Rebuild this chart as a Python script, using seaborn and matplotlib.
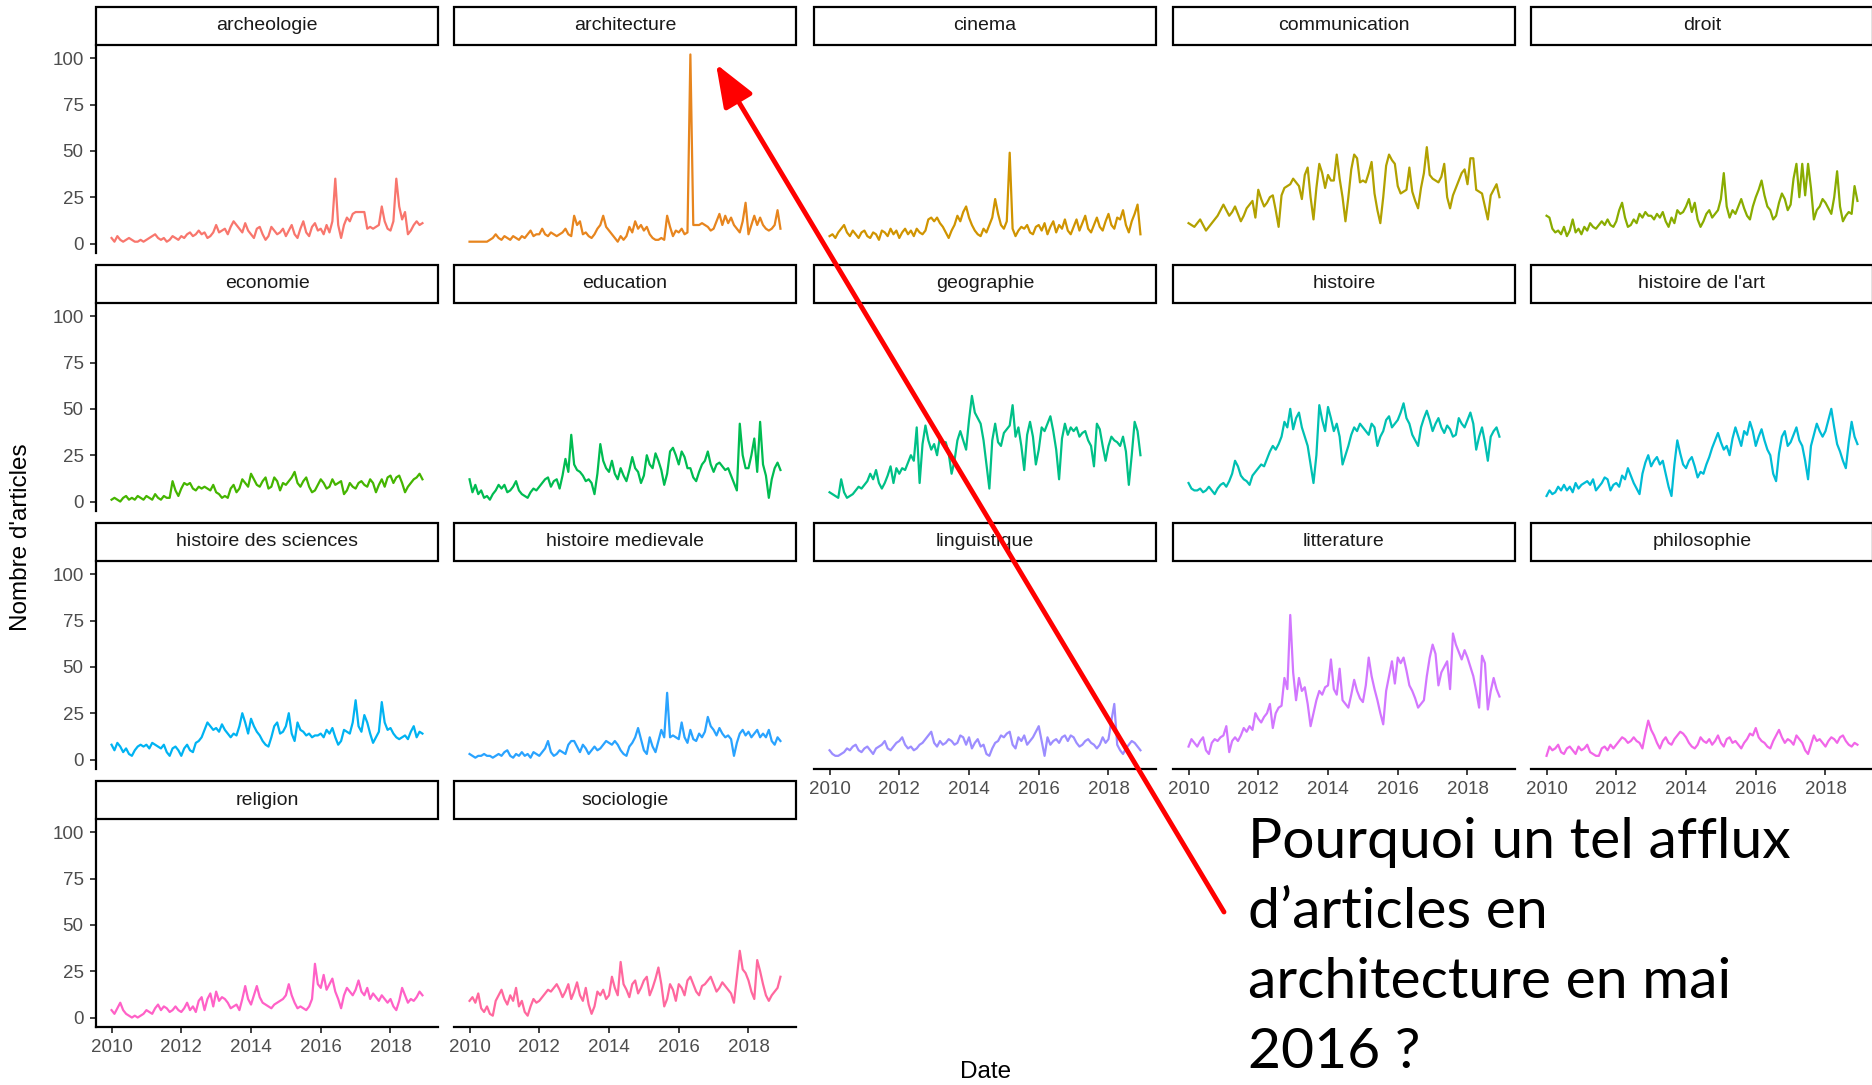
import numpy as np
import pandas as pd
import matplotlib
matplotlib.use('Agg')
import matplotlib.pyplot as plt
import seaborn as sns
from matplotlib.patches import Rectangle, FancyArrowPatch

# Nombre d'articles par mois (janvier 2010 -> decembre 2018)
archeologie = [3, 1, 4, 2, 1, 2, 3, 2, 1, 1, 2, 1,
               2, 3, 4, 5, 3, 2, 3, 1, 2, 4, 3, 2,
               4, 3, 5, 6, 4, 5, 7, 5, 6, 3, 4, 6,
               10, 6, 7, 8, 5, 9, 12, 10, 8, 6, 11, 7,
               5, 3, 8, 9, 5, 2, 4, 9, 7, 5, 6, 8,
               4, 7, 10, 5, 3, 8, 12, 6, 4, 9, 11, 7,
               8, 5, 10, 6, 12, 35, 10, 3, 10, 14, 12, 16,
               17, 17, 17, 17, 8, 9, 8, 9, 10, 20, 12, 8,
               7, 12, 35, 20, 13, 17, 5, 7, 10, 12, 10, 11]
architecture = [1, 1, 1, 1, 1, 1, 1, 2, 3, 5, 3, 2,
                4, 3, 2, 4, 3, 2, 4, 3, 5, 7, 4, 5,
                5, 8, 5, 4, 6, 5, 4, 5, 6, 8, 5, 4,
                15, 10, 12, 5, 6, 4, 3, 5, 8, 10, 15, 9,
                7, 5, 3, 1, 4, 2, 4, 9, 6, 12, 8, 10,
                7, 9, 5, 3, 2, 2, 3, 2, 15, 9, 4, 7,
                6, 8, 5, 6, 102, 10, 10, 10, 11, 10, 9, 7,
                8, 12, 16, 10, 15, 11, 14, 10, 8, 6, 12, 22,
                5, 10, 15, 10, 14, 10, 8, 7, 8, 10, 18, 8]
cinema = [4, 5, 3, 6, 8, 10, 6, 4, 7, 5, 3, 6,
          7, 4, 3, 6, 5, 2, 7, 6, 4, 8, 5, 7,
          3, 6, 8, 5, 7, 4, 8, 6, 5, 7, 13, 14,
          12, 14, 11, 9, 6, 3, 7, 10, 15, 12, 17, 20,
          14, 10, 7, 5, 4, 8, 6, 10, 14, 24, 16, 10,
          8, 12, 49, 8, 4, 7, 9, 8, 10, 6, 5, 9,
          10, 7, 11, 5, 9, 12, 6, 10, 8, 13, 7, 5,
          9, 13, 7, 11, 15, 8, 6, 10, 14, 9, 7, 12,
          16, 10, 8, 14, 13, 18, 10, 6, 12, 16, 21, 5]
communication = [11, 10, 9, 11, 13, 10, 7, 9, 11, 13, 15, 18,
                 21, 18, 15, 17, 20, 16, 12, 15, 19, 21, 23, 14,
                 29, 24, 20, 22, 25, 26, 18, 9, 26, 30, 31, 32,
                 35, 33, 31, 24, 37, 41, 25, 13, 30, 43, 38, 30,
                 37, 34, 34, 48, 35, 25, 12, 25, 40, 48, 46, 33,
                 34, 33, 38, 44, 27, 18, 11, 25, 42, 48, 45, 43,
                 31, 27, 28, 29, 41, 28, 23, 19, 30, 38, 52, 37,
                 35, 34, 33, 36, 43, 25, 19, 26, 30, 34, 38, 40,
                 32, 46, 46, 29, 28, 27, 20, 13, 26, 29, 32, 25]
droit = [15, 14, 8, 6, 7, 5, 9, 4, 7, 13, 6, 8,
         5, 9, 7, 11, 9, 8, 10, 12, 10, 13, 10, 9,
         12, 18, 22, 14, 9, 10, 13, 11, 16, 14, 17, 15,
         15, 13, 16, 14, 17, 12, 9, 14, 11, 18, 16, 17,
         20, 24, 17, 22, 13, 9, 12, 16, 18, 14, 16, 18,
         24, 38, 20, 14, 18, 16, 20, 24, 19, 15, 13, 20,
         25, 29, 34, 26, 20, 18, 13, 15, 22, 27, 24, 18,
         21, 35, 43, 25, 43, 26, 43, 30, 13, 18, 20, 24,
         22, 19, 16, 25, 39, 20, 12, 15, 17, 16, 31, 23]
economie = [1, 2, 1, 0, 2, 3, 1, 2, 1, 3, 2, 1,
            3, 2, 1, 4, 2, 1, 3, 2, 2, 11, 6, 3,
            7, 10, 9, 10, 7, 6, 8, 7, 8, 7, 6, 9,
            5, 4, 2, 3, 2, 7, 9, 5, 7, 12, 10, 8,
            15, 12, 9, 8, 11, 13, 7, 8, 13, 11, 6, 10,
            9, 11, 13, 16, 10, 8, 11, 13, 8, 5, 6, 9,
            12, 10, 7, 8, 12, 9, 10, 11, 4, 6, 10, 8,
            7, 10, 11, 9, 8, 12, 10, 5, 9, 12, 8, 13,
            14, 10, 13, 14, 10, 5, 8, 10, 12, 13, 15, 12]
education = [12, 5, 9, 4, 6, 2, 3, 1, 4, 6, 9, 7,
             9, 5, 6, 8, 11, 6, 4, 3, 2, 5, 7, 6,
             8, 10, 12, 13, 8, 11, 12, 7, 14, 23, 16, 36,
             20, 17, 16, 14, 11, 12, 10, 4, 15, 31, 22, 18,
             16, 22, 15, 12, 18, 14, 11, 17, 24, 18, 16, 10,
             14, 25, 20, 18, 26, 22, 17, 9, 15, 27, 29, 25,
             20, 27, 24, 18, 18, 13, 11, 16, 20, 22, 27, 20,
             16, 20, 21, 19, 17, 18, 14, 10, 6, 42, 25, 18,
             18, 25, 34, 16, 43, 20, 14, 2, 12, 18, 21, 17]
geographie = [5, 4, 3, 2, 12, 5, 2, 3, 4, 6, 8, 7,
              9, 11, 15, 12, 17, 10, 7, 10, 14, 19, 10, 18,
              15, 18, 17, 21, 25, 22, 40, 10, 31, 41, 33, 28,
              31, 25, 35, 32, 32, 26, 15, 22, 33, 38, 33, 28,
              44, 57, 48, 45, 42, 33, 20, 7, 33, 42, 32, 30,
              37, 39, 41, 52, 35, 40, 30, 17, 36, 43, 35, 20,
              28, 40, 38, 42, 46, 38, 28, 12, 34, 42, 36, 40,
              38, 40, 35, 37, 38, 33, 30, 19, 42, 39, 30, 22,
              30, 35, 33, 32, 30, 35, 27, 9, 25, 43, 38, 25]
histoire = [10, 7, 6, 6, 7, 5, 6, 8, 6, 4, 7, 9,
            10, 8, 11, 15, 22, 19, 14, 12, 11, 9, 14, 16,
            18, 20, 19, 23, 27, 30, 28, 31, 35, 43, 40, 50,
            39, 45, 48, 40, 35, 30, 20, 10, 25, 52, 44, 38,
            51, 45, 38, 42, 35, 20, 25, 30, 36, 40, 38, 42,
            40, 38, 36, 42, 40, 30, 35, 38, 44, 46, 40, 42,
            44, 48, 53, 45, 42, 36, 33, 30, 40, 45, 49, 44,
            38, 42, 45, 40, 37, 41, 39, 35, 36, 45, 42, 40,
            44, 48, 42, 28, 35, 40, 32, 22, 35, 38, 40, 35]
histoire_art = [3, 6, 4, 5, 8, 6, 9, 6, 8, 5, 10, 7,
                9, 10, 11, 9, 12, 6, 8, 10, 13, 12, 6, 9,
                10, 8, 14, 12, 18, 14, 10, 7, 4, 15, 21, 25,
                19, 22, 24, 20, 22, 15, 8, 3, 20, 33, 26, 20,
                18, 22, 24, 19, 13, 16, 15, 20, 24, 29, 33, 37,
                32, 28, 30, 25, 34, 40, 35, 30, 38, 36, 43, 38,
                30, 35, 39, 33, 28, 25, 15, 11, 26, 35, 38, 30,
                32, 36, 40, 33, 30, 22, 12, 30, 36, 42, 38, 35,
                38, 44, 50, 40, 31, 27, 22, 18, 32, 43, 35, 31]
histoire_sciences = [8, 5, 9, 7, 4, 6, 3, 2, 5, 7, 8, 7,
                     8, 6, 9, 8, 7, 6, 8, 4, 2, 6, 7, 5,
                     2, 6, 8, 5, 4, 9, 10, 12, 16, 20, 18, 16,
                     17, 15, 19, 16, 14, 12, 14, 13, 18, 25, 20, 14,
                     22, 18, 15, 13, 10, 8, 7, 12, 18, 20, 14, 15,
                     18, 25, 14, 10, 20, 16, 15, 13, 14, 12, 13, 13,
                     14, 12, 16, 14, 17, 12, 8, 10, 16, 15, 14, 20,
                     32, 18, 15, 24, 20, 14, 9, 12, 15, 31, 20, 16,
                     17, 14, 12, 11, 12, 13, 11, 15, 18, 12, 15, 14]
histoire_medievale = [3, 2, 1, 2, 2, 3, 2, 2, 1, 2, 3, 2,
                      4, 5, 2, 1, 3, 2, 4, 2, 3, 1, 4, 3,
                      2, 4, 6, 10, 4, 2, 3, 5, 4, 3, 8, 10,
                      10, 7, 4, 8, 6, 3, 5, 7, 5, 6, 8, 10,
                      9, 8, 10, 8, 5, 3, 2, 7, 9, 12, 17, 11,
                      5, 3, 12, 7, 4, 10, 16, 12, 36, 12, 13, 12,
                      11, 20, 12, 9, 16, 11, 10, 14, 12, 15, 23, 18,
                      16, 13, 17, 14, 12, 13, 11, 2, 9, 14, 16, 13,
                      15, 12, 14, 16, 12, 14, 12, 16, 10, 8, 12, 10]
linguistique = [5, 3, 2, 2, 3, 4, 6, 5, 7, 8, 5, 4,
                6, 7, 5, 3, 6, 7, 8, 10, 6, 5, 7, 9,
                10, 12, 8, 6, 7, 5, 6, 8, 9, 11, 13, 15,
                9, 7, 10, 8, 9, 11, 10, 8, 9, 13, 12, 8,
                12, 6, 9, 11, 7, 8, 3, 2, 6, 9, 10, 13,
                12, 14, 15, 8, 6, 12, 10, 13, 8, 10, 12, 15,
                18, 10, 2, 12, 8, 10, 11, 9, 12, 13, 10, 13,
                12, 9, 7, 8, 10, 11, 9, 8, 6, 8, 12, 9,
                11, 21, 30, 8, 5, 3, 6, 8, 10, 9, 7, 5]
litterature = [7, 11, 9, 7, 10, 12, 5, 3, 9, 11, 10, 12,
               13, 18, 4, 10, 12, 10, 13, 17, 15, 18, 16, 25,
               22, 20, 23, 25, 30, 17, 25, 28, 29, 44, 38, 78,
               47, 32, 44, 37, 39, 30, 18, 25, 32, 37, 35, 39,
               40, 54, 38, 35, 49, 32, 30, 28, 35, 43, 37, 33,
               31, 40, 55, 45, 38, 32, 25, 19, 37, 45, 53, 41,
               55, 52, 55, 48, 40, 37, 33, 28, 30, 32, 45, 55,
               62, 57, 40, 47, 50, 53, 38, 68, 62, 58, 54, 59,
               55, 50, 45, 37, 28, 56, 52, 27, 37, 44, 38, 34]
philosophie = [2, 7, 5, 6, 8, 4, 3, 6, 7, 5, 3, 7,
               5, 6, 8, 4, 3, 2, 2, 6, 7, 5, 8, 6,
               8, 10, 12, 11, 9, 10, 12, 10, 9, 6, 14, 21,
               16, 13, 9, 6, 10, 12, 9, 8, 11, 13, 15, 14,
               12, 9, 7, 6, 8, 12, 10, 9, 11, 8, 10, 13,
               9, 7, 11, 12, 9, 10, 8, 6, 9, 11, 14, 13,
               17, 12, 10, 9, 7, 6, 10, 13, 16, 12, 9, 11,
               10, 8, 13, 11, 9, 5, 3, 8, 13, 10, 11, 9,
               7, 10, 12, 11, 9, 12, 13, 10, 8, 7, 9, 8]
religion = [4, 2, 5, 8, 4, 2, 1, 0, 1, 0, 1, 2,
            4, 3, 2, 5, 7, 4, 6, 5, 3, 4, 6, 4,
            3, 5, 8, 4, 6, 3, 9, 11, 4, 10, 13, 6,
            14, 9, 11, 10, 8, 5, 6, 7, 4, 10, 17, 10,
            7, 12, 17, 11, 8, 7, 6, 5, 7, 8, 9, 10,
            12, 18, 12, 8, 5, 6, 5, 4, 6, 10, 29, 18,
            16, 23, 15, 18, 21, 14, 10, 5, 12, 16, 14, 12,
            15, 20, 14, 12, 16, 10, 13, 11, 9, 12, 10, 8,
            10, 6, 4, 9, 16, 12, 8, 10, 9, 11, 14, 12]
sociologie = [9, 11, 8, 13, 5, 3, 6, 2, 1, 9, 12, 15,
              10, 7, 12, 9, 16, 6, 9, 3, 1, 6, 10, 8,
              9, 11, 13, 15, 14, 16, 18, 15, 11, 14, 18, 10,
              14, 19, 12, 9, 16, 7, 2, 6, 14, 12, 15, 10,
              12, 22, 16, 12, 30, 18, 15, 11, 18, 20, 13, 16,
              20, 22, 12, 16, 21, 27, 18, 6, 10, 18, 15, 9,
              18, 16, 12, 20, 22, 18, 14, 12, 17, 18, 20, 22,
              18, 14, 16, 19, 17, 15, 13, 8, 22, 36, 26, 24,
              20, 14, 10, 31, 25, 18, 12, 9, 12, 14, 16, 22]

noms = ['archeologie', 'architecture', 'cinema', 'communication', 'droit',
        'economie', 'education', 'geographie', 'histoire', "histoire de l'art",
        'histoire des sciences', 'histoire medievale', 'linguistique', 'litterature',
        'philosophie', 'religion', 'sociologie']
series = [archeologie, architecture, cinema, communication, droit,
          economie, education, geographie, histoire, histoire_art,
          histoire_sciences, histoire_medievale, linguistique, litterature,
          philosophie, religion, sociologie]

annees_ticks = [2010, 2012, 2014, 2016, 2018]
y_ticks = [0, 25, 50, 75, 100]

# table longue
frames = []
for nom, vals in zip(noms, series):
    dates = pd.date_range('2010-01-01', periods=len(vals), freq='MS')
    frames.append(pd.DataFrame({'discipline': nom,
                                'annee': dates.year + (dates.month - 1) / 12,
                                'n': vals}))
df = pd.concat(frames, ignore_index=True)


# palette "hue" de ggplot (HCL, l=65, c=100)
def hcl_hex(h, c=100.0, l=65.0):
    Xn, Yn, Zn = 95.047, 100.0, 108.883
    hr = np.deg2rad(h)
    u, v = c * np.cos(hr), c * np.sin(hr)
    Y = Yn * ((l + 16) / 116) ** 3
    den = Xn + 15 * Yn + 3 * Zn
    un, vn = 4 * Xn / den, 9 * Yn / den
    up, vp = u / (13 * l) + un, v / (13 * l) + vn
    X = 9 * Y * up / (4 * vp)
    Z = -X / 3 - 5 * Y + 3 * Y / vp
    X, Y, Z = X / 100, Y / 100, Z / 100
    rgb = [3.240479 * X - 1.537150 * Y - 0.498535 * Z,
           -0.969256 * X + 1.875992 * Y + 0.041556 * Z,
           0.055648 * X - 0.204043 * Y + 1.057311 * Z]
    out = []
    for t in rgb:
        t = 1.055 * t ** (1 / 2.4) - 0.055 if t > 0.0031308 else 12.92 * t
        out.append(min(max(t, 0), 1))
    return tuple(out)


palette = [hcl_hex(15 + 360 * i / len(noms)) for i in range(len(noms))]

W, H = 1872, 1085
fig = plt.figure(figsize=(W / 100, H / 100), dpi=100)
fig.patch.set_facecolor('white')

col_left = [96, 454, 814, 1173, 1531]
row_top = [45, 303, 561, 819]
pw, ph, strip_h = 342, 208, 38

ymin, ymax = df['n'].min(), df['n'].max()
ypad = 0.05 * (ymax - ymin)
xmin, xmax = df['annee'].min(), df['annee'].max()
xpad = 0.05 * (xmax - xmin)

police = 'Liberation Sans'

for k, nom in enumerate(noms):
    r, c = divmod(k, 5)
    ax = fig.add_axes([col_left[c] / W, 1 - (row_top[r] + ph) / H, pw / W, ph / H])
    sub = df[df['discipline'] == nom]
    sns.lineplot(data=sub, x='annee', y='n', color=palette[k], linewidth=1.6, ax=ax)
    ax.set_xlim(xmin - xpad, xmax + xpad)
    ax.set_ylim(ymin - ypad, ymax + ypad)
    ax.set_xlabel('')
    ax.set_ylabel('')
    ax.set_facecolor('white')
    for s in ['top', 'right']:
        ax.spines[s].set_visible(False)

    bas = (r == 3) or (r == 2 and c >= 2)
    gauche = (c == 0)
    ax.spines['left'].set_visible(gauche)
    ax.spines['bottom'].set_visible(bas)
    for s in ['left', 'bottom']:
        ax.spines[s].set_linewidth(1.6)
        ax.spines[s].set_color('black')

    ax.set_xticks(annees_ticks)
    ax.set_yticks(y_ticks)
    ax.tick_params(axis='x', bottom=bas, labelbottom=bas, length=4, width=1.3,
                   color='#333333', labelcolor='#4D4D4D', labelsize=13.5, pad=5)
    ax.tick_params(axis='y', left=gauche, labelleft=gauche, length=4, width=1.3,
                   color='#333333', labelcolor='#4D4D4D', labelsize=13.5, pad=5)
    for lab in ax.get_xticklabels() + ax.get_yticklabels():
        lab.set_fontfamily(police)

    # bandeau du facet
    ax.add_patch(Rectangle((0, 1), 1, strip_h / ph, transform=ax.transAxes,
                           clip_on=False, facecolor='white', edgecolor='black',
                           linewidth=1.6, zorder=5))
    ax.text(0.5, 1 + strip_h / ph / 2, nom, transform=ax.transAxes, ha='center',
            va='center', fontsize=14, color='#1A1A1A', family=police, zorder=6)

fig.text(21.5 / W, 1 - 537 / H, "Nombre d'articles", rotation=90, ha='center',
         va='center', fontsize=17.5, family=police, color='black')
fig.text(986 / W, 1 - 1072 / H, 'Date', ha='center', va='center',
         fontsize=17.5, family=police, color='black')

# question et fleche rouge
lignes = ['Pourquoi un tel afflux', 'd’articles en', 'architecture en mai', '2016 ?']
for i, txt in enumerate(lignes):
    fig.text(1248 / W, 1 - (858 + 70 * i) / H, txt, ha='left', va='baseline',
             fontsize=41, family='Lato', color='black')

fleche = FancyArrowPatch((1224 / W, 1 - 912 / H), (716 / W, 1 - 64 / H),
                         transform=fig.transFigure,
                         arrowstyle='-|>,head_length=26,head_width=10',
                         mutation_scale=1, color='#FF0000', linewidth=3.5,
                         shrinkA=0, shrinkB=0, zorder=20)
fig.add_artist(fleche)

fig.savefig('out.png', dpi=100)
